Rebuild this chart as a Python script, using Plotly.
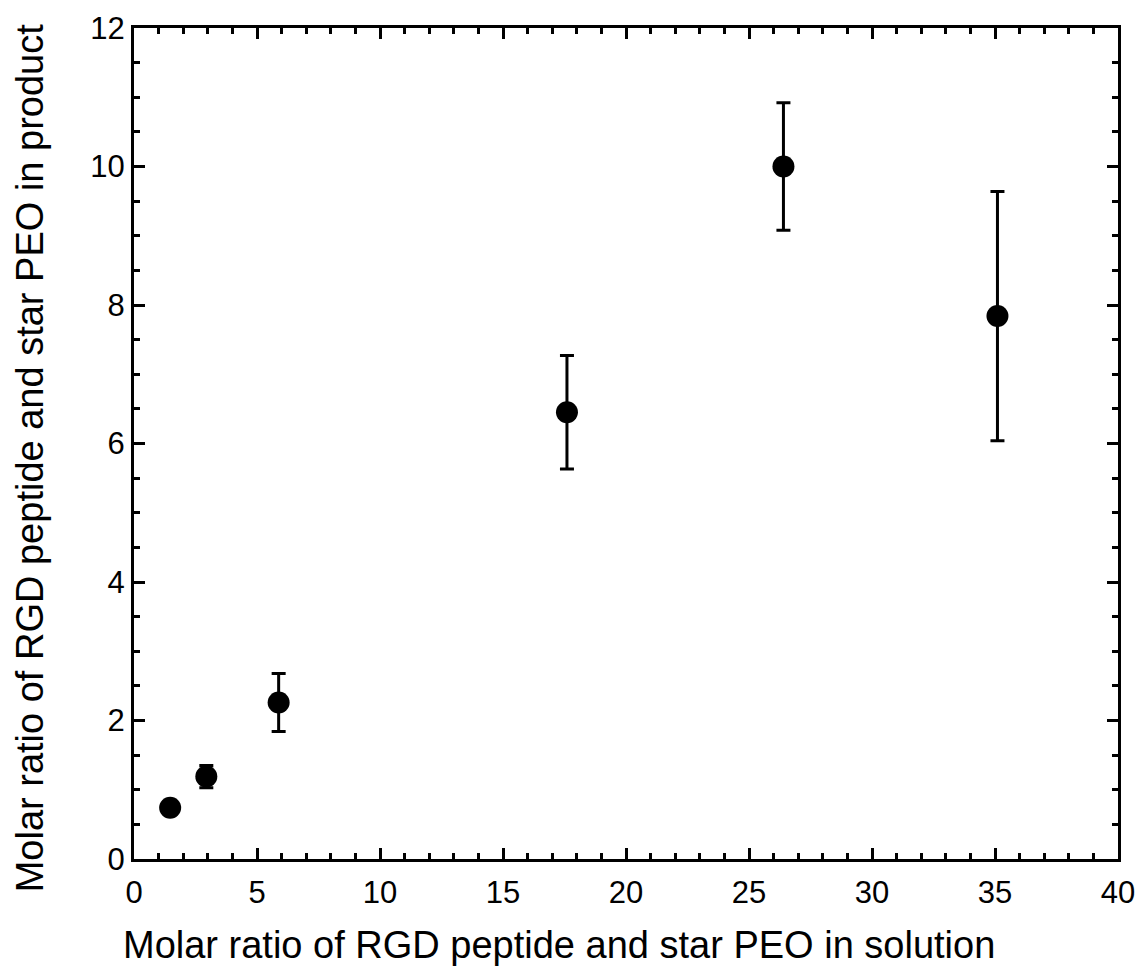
import plotly.graph_objects as go

# molar ratio in solution vs molar ratio in product
ratio_solution = [1.47, 2.94, 5.88, 17.6, 26.4, 35.1]
ratio_product = [0.74, 1.19, 2.26, 6.45, 10.0, 7.84]
product_error = [0.05, 0.16, 0.42, 0.82, 0.92, 1.80]

x_ticks = [0, 5, 10, 15, 20, 25, 30, 35, 40]
y_ticks = [0, 2, 4, 6, 8, 10, 12]

x_title = "Molar ratio of RGD peptide and star PEO in solution"
y_title = "Molar ratio of RGD peptide and star PEO in product"

FONT = "Liberation Sans, Arial, Helvetica, sans-serif"

fig = go.Figure()
fig.add_trace(go.Scatter(
    x=ratio_solution,
    y=ratio_product,
    mode="markers",
    marker=dict(size=22, color="black", symbol="circle"),
    error_y=dict(type="data", array=product_error, visible=True,
                 color="black", thickness=3, width=7),
    showlegend=False,
))

axis_common = dict(
    showline=True, linecolor="black", linewidth=3, mirror="ticks",
    ticks="inside", tickcolor="black", tickwidth=3, ticklen=11,
    showgrid=False, zeroline=False,
    tickfont=dict(family=FONT, size=31, color="black"),
)

fig.update_xaxes(
    range=[0, 40], tickvals=x_ticks, ticklabelstandoff=4,
    minor=dict(ticks="inside", dtick=1, ticklen=6, tickwidth=3, tickcolor="black"),
    **axis_common,
)
fig.update_yaxes(
    range=[0, 12], tickvals=y_ticks, ticklabelstandoff=0,
    minor=dict(ticks="inside", dtick=0.5, ticklen=6, tickwidth=3, tickcolor="black"),
    **axis_common,
)

# axis titles as annotations, the original sits a bit off centre
fig.add_annotation(text=x_title, xref="paper", yref="paper", x=0.432, y=-0.103,
                   xanchor="center", yanchor="middle", showarrow=False,
                   font=dict(family=FONT, size=38, color="black"))
fig.add_annotation(text=y_title, xref="paper", yref="paper", x=-0.106, y=0.483,
                   xanchor="center", yanchor="middle", showarrow=False, textangle=-90,
                   font=dict(family=FONT, size=38, color="black"))

fig.update_layout(
    width=1138, height=975,
    margin=dict(l=134, r=20, t=28, b=116, autoexpand=False),
    plot_bgcolor="white", paper_bgcolor="white",
)

# drop the default body margin so the figure fills the window without scrollbars
fig.write_html("out.html", config={"displayModeBar": False},
               post_script="document.body.style.margin='0';"
                           "document.body.style.overflow='hidden';")
